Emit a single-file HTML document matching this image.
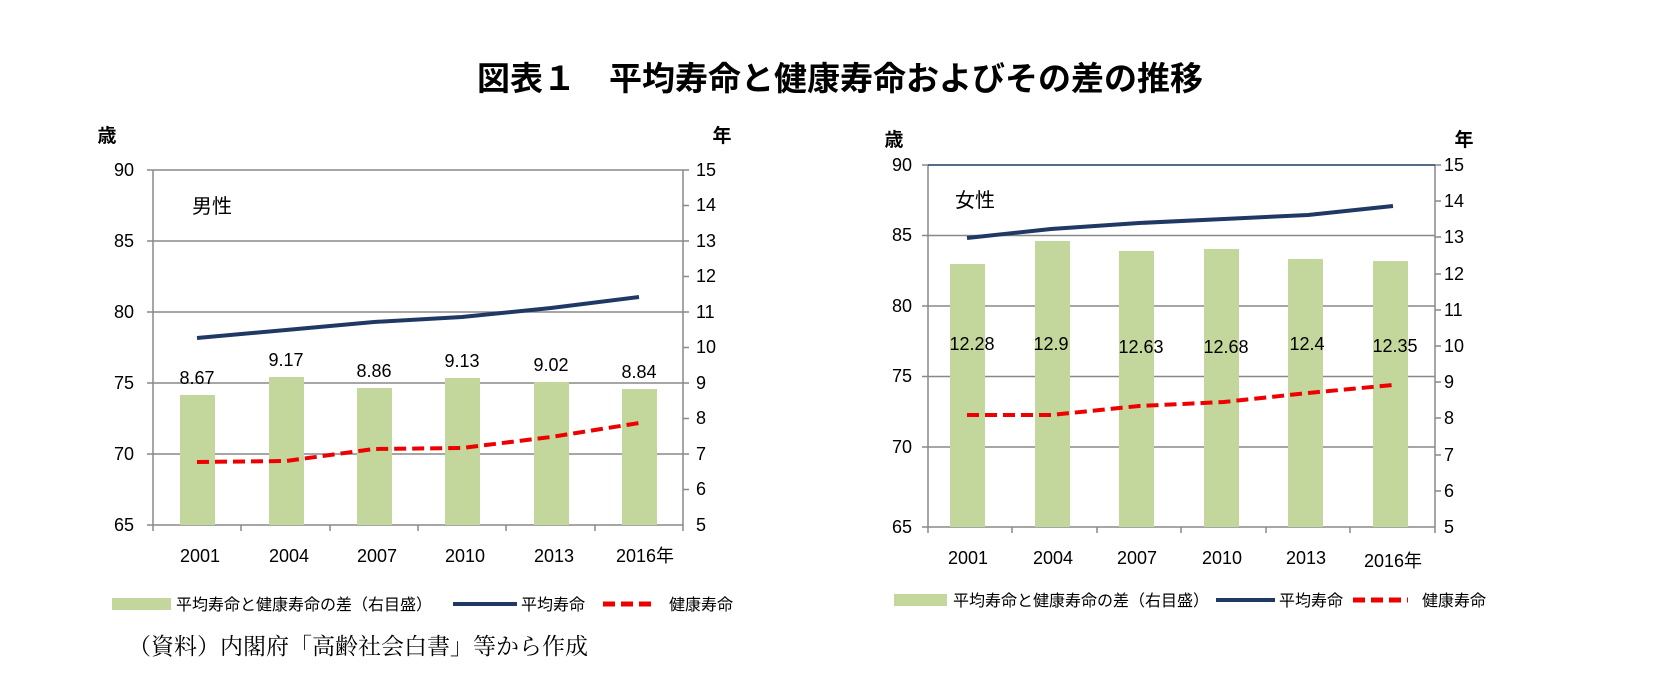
<!DOCTYPE html>
<html><head><meta charset="utf-8"><style>
body{margin:0;background:#fff;}
text{font-family:"Liberation Sans","Noto Sans CJK JP",sans-serif;fill:#000;}
</style></head><body>
<svg width="1673" height="688" xmlns="http://www.w3.org/2000/svg">
<text x="840" y="90" font-size="33" text-anchor="middle" font-weight="bold">図表１　平均寿命と健康寿命およびその差の推移</text>

<!-- LEFT CHART -->
<g>
<text x="107" y="142" font-size="19" text-anchor="middle" font-weight="bold">歳</text>
<text x="722" y="142" font-size="19" text-anchor="middle" font-weight="bold">年</text>
<g stroke="#888" stroke-width="1.5">
<line x1="153" y1="170" x2="683" y2="170"/><line x1="153" y1="241" x2="683" y2="241"/>
<line x1="153" y1="312" x2="683" y2="312"/><line x1="153" y1="383" x2="683" y2="383"/>
<line x1="153" y1="454" x2="683" y2="454"/><line x1="153" y1="525" x2="683" y2="525"/>
<line x1="153" y1="170" x2="153" y2="525"/><line x1="683" y1="170" x2="683" y2="525"/>
<line x1="147" y1="170" x2="153" y2="170"/><line x1="147" y1="241" x2="153" y2="241"/><line x1="147" y1="312" x2="153" y2="312"/><line x1="147" y1="383" x2="153" y2="383"/><line x1="147" y1="454" x2="153" y2="454"/><line x1="147" y1="525" x2="153" y2="525"/>
<line x1="683" y1="170" x2="689" y2="170"/><line x1="683" y1="205.5" x2="689" y2="205.5"/><line x1="683" y1="241" x2="689" y2="241"/><line x1="683" y1="276.5" x2="689" y2="276.5"/><line x1="683" y1="312" x2="689" y2="312"/><line x1="683" y1="347.5" x2="689" y2="347.5"/><line x1="683" y1="383" x2="689" y2="383"/><line x1="683" y1="418.5" x2="689" y2="418.5"/><line x1="683" y1="454" x2="689" y2="454"/><line x1="683" y1="489.5" x2="689" y2="489.5"/>
<line x1="241" y1="525" x2="241" y2="531"/><line x1="330" y1="525" x2="330" y2="531"/><line x1="418" y1="525" x2="418" y2="531"/><line x1="506" y1="525" x2="506" y2="531"/><line x1="595" y1="525" x2="595" y2="531"/><line x1="153" y1="525" x2="153" y2="531"/><line x1="683" y1="525" x2="683" y2="531"/>
</g>
<g font-size="18" text-anchor="end">
<text x="134" y="176">90</text><text x="134" y="247">85</text><text x="134" y="318">80</text><text x="134" y="389">75</text><text x="134" y="460">70</text><text x="134" y="531">65</text>
</g>
<g font-size="18">
<text x="696" y="176">15</text><text x="696" y="211">14</text><text x="696" y="247">13</text><text x="696" y="282">12</text><text x="696" y="318">11</text><text x="696" y="353">10</text><text x="696" y="389">9</text><text x="696" y="424">8</text><text x="696" y="460">7</text><text x="696" y="495">6</text><text x="696" y="531">5</text>
</g>
<g fill="#c3d69b">
<rect x="180" y="395" width="35" height="130"/><rect x="269" y="377" width="35" height="148"/><rect x="357" y="388" width="35" height="137"/><rect x="445" y="378" width="35" height="147"/><rect x="534" y="382" width="35" height="143"/><rect x="622" y="389" width="35" height="136"/>
</g>
<g font-size="18" text-anchor="middle">
<text x="197" y="384">8.67</text><text x="286" y="366">9.17</text><text x="374" y="377">8.86</text><text x="462" y="367">9.13</text><text x="551" y="371">9.02</text><text x="639" y="378">8.84</text>
</g>
<text x="192" y="213" font-size="20">男性</text>
<polyline points="197,338 286,330 374,322 462,317 551,308 639,297" fill="none" stroke="#1f3864" stroke-width="4"/>
<polyline points="197,462 286,461 374,449 462,448 551,437 639,423" fill="none" stroke="#e00" stroke-width="4" stroke-dasharray="12,6"/>
<g font-size="18" text-anchor="middle">
<text x="200" y="562">2001</text><text x="289" y="562">2004</text><text x="377" y="562">2007</text><text x="465" y="562">2010</text><text x="554" y="562">2013</text><text x="645" y="562">2016年</text>
</g>
<rect x="112" y="598" width="59" height="12" fill="#c3d69b"/>
<text x="176" y="610" font-size="16">平均寿命と健康寿命の差（右目盛）</text>
<line x1="453" y1="604" x2="517" y2="604" stroke="#1f3864" stroke-width="4"/>
<text x="521" y="610" font-size="16">平均寿命</text>
<line x1="603" y1="604" x2="656" y2="604" stroke="#e00" stroke-width="5" stroke-dasharray="12,6"/>
<text x="669" y="610" font-size="16">健康寿命</text>
<text x="128" y="654" font-size="23" style="font-family:'Liberation Serif','Noto Serif CJK SC',serif">（資料）内閣府「高齢社会白書」等から作成</text>
</g>

<!-- RIGHT CHART -->
<g>
<text x="894" y="146" font-size="19" text-anchor="middle" font-weight="bold">歳</text>
<text x="1464" y="146" font-size="19" text-anchor="middle" font-weight="bold">年</text>
<g stroke="#888" stroke-width="1.5">
<line x1="928" y1="235.5" x2="1435" y2="235.5"/><line x1="928" y1="306" x2="1435" y2="306"/>
<line x1="928" y1="376.5" x2="1435" y2="376.5"/><line x1="928" y1="447" x2="1435" y2="447"/>
<line x1="928" y1="527" x2="1435" y2="527"/>
<line x1="928" y1="165" x2="928" y2="527"/><line x1="1435" y1="165" x2="1435" y2="527"/>
<line x1="922" y1="165" x2="928" y2="165"/><line x1="922" y1="235.5" x2="928" y2="235.5"/><line x1="922" y1="306" x2="928" y2="306"/><line x1="922" y1="376.5" x2="928" y2="376.5"/><line x1="922" y1="447" x2="928" y2="447"/><line x1="922" y1="527" x2="928" y2="527"/>
<line x1="1435" y1="165" x2="1441" y2="165"/><line x1="1435" y1="201" x2="1441" y2="201"/><line x1="1435" y1="237" x2="1441" y2="237"/><line x1="1435" y1="274" x2="1441" y2="274"/><line x1="1435" y1="310" x2="1441" y2="310"/><line x1="1435" y1="346" x2="1441" y2="346"/><line x1="1435" y1="382" x2="1441" y2="382"/><line x1="1435" y1="418" x2="1441" y2="418"/><line x1="1435" y1="455" x2="1441" y2="455"/><line x1="1435" y1="491" x2="1441" y2="491"/>
<line x1="1012" y1="527" x2="1012" y2="533"/><line x1="1097" y1="527" x2="1097" y2="533"/><line x1="1181" y1="527" x2="1181" y2="533"/><line x1="1266" y1="527" x2="1266" y2="533"/><line x1="1350" y1="527" x2="1350" y2="533"/><line x1="928" y1="527" x2="928" y2="533"/><line x1="1435" y1="527" x2="1435" y2="533"/>
</g>
<line x1="928" y1="165" x2="1435" y2="165" stroke="#1f3864" stroke-width="1.5"/>
<g font-size="18" text-anchor="end">
<text x="912" y="171">90</text><text x="912" y="241">85</text><text x="912" y="312">80</text><text x="912" y="382">75</text><text x="912" y="453">70</text><text x="912" y="533">65</text>
</g>
<g font-size="18">
<text x="1444" y="171">15</text><text x="1444" y="207">14</text><text x="1444" y="243">13</text><text x="1444" y="280">12</text><text x="1444" y="316">11</text><text x="1444" y="352">10</text><text x="1444" y="388">9</text><text x="1444" y="424">8</text><text x="1444" y="461">7</text><text x="1444" y="497">6</text><text x="1444" y="533">5</text>
</g>
<g fill="#c3d69b">
<rect x="950" y="264" width="35" height="263"/><rect x="1035" y="241" width="35" height="286"/><rect x="1119" y="251" width="35" height="276"/><rect x="1204" y="249" width="35" height="278"/><rect x="1288" y="259" width="35" height="268"/><rect x="1373" y="261" width="35" height="266"/>
</g>
<g font-size="18" text-anchor="middle">
<text x="972" y="350">12.28</text><text x="1051" y="350">12.9</text><text x="1141" y="353">12.63</text><text x="1226" y="353">12.68</text><text x="1307" y="350">12.4</text><text x="1395" y="352">12.35</text>
</g>
<text x="955" y="207" font-size="20">女性</text>
<polyline points="967,238 1051,229 1139,223 1224,219 1308,215 1393,206" fill="none" stroke="#1f3864" stroke-width="4"/>
<polyline points="967,415 1051,415 1139,406 1224,402 1308,393 1393,385" fill="none" stroke="#e00" stroke-width="4" stroke-dasharray="12,6"/>
<g font-size="18" text-anchor="middle">
<text x="968" y="564">2001</text><text x="1053" y="564">2004</text><text x="1137" y="564">2007</text><text x="1222" y="564">2010</text><text x="1306" y="564">2013</text><text x="1393" y="567">2016年</text>
</g>
<rect x="894" y="594" width="53" height="12" fill="#c3d69b"/>
<text x="953" y="606" font-size="16">平均寿命と健康寿命の差（右目盛）</text>
<line x1="1216" y1="600" x2="1275" y2="600" stroke="#1f3864" stroke-width="4"/>
<text x="1279" y="606" font-size="16">平均寿命</text>
<line x1="1353" y1="600" x2="1408" y2="600" stroke="#e00" stroke-width="5" stroke-dasharray="12,6"/>
<text x="1422" y="606" font-size="16">健康寿命</text>
</g>
</svg>
</body></html>
